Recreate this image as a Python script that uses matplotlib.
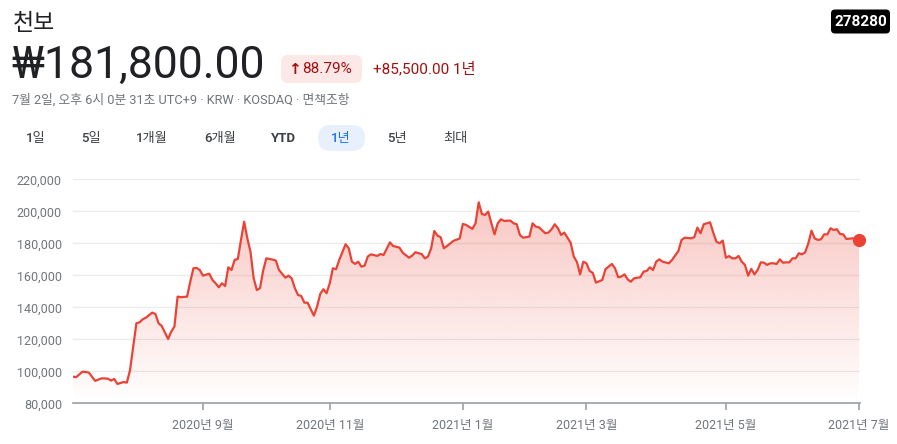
import numpy as np
import matplotlib
matplotlib.use("Agg")
import matplotlib.pyplot as plt
from matplotlib.patches import Polygon, FancyBboxPatch

plt.rcParams['font.family'] = ['Roboto', 'Noto Sans CJK KR', 'DejaVu Sans']

# trading-day index (0 = 2020-07-02) and closing price
days = [0, 1, 3, 5, 7, 9, 11, 12, 13, 14, 16, 17, 18, 20, 21, 22, 23, 25, 26, 27,
        28, 30, 31, 32, 33, 34, 36, 37, 38, 39, 40, 41, 43, 44, 45, 46, 47, 48, 49, 50,
        51, 52, 53, 54, 55, 56, 57, 58, 59, 60, 61, 63, 64, 65, 67, 68, 69, 70, 71, 72,
        73, 74, 76, 77, 78, 79, 80, 81, 82, 83, 84, 86, 87, 88, 89, 90, 91, 92, 93, 94,
        96, 97, 98, 100, 101, 103, 104, 106, 107, 108, 110, 111, 112, 113, 114, 115, 116, 117, 118, 120,
        122, 123, 124, 126, 127, 128, 129, 130, 131, 132, 133, 134, 135, 136, 138, 139, 140, 141, 142, 144,
        145, 146, 147, 149, 150, 151, 152, 153, 154, 155, 157, 158, 159, 160, 161, 162, 163, 164, 165, 167,
        168, 170, 171, 172, 173, 174, 175, 176, 177, 179, 180, 181, 182, 183, 184, 185, 186, 188, 189, 191,
        192, 193, 195, 196, 197, 198, 199, 200, 201, 202, 203, 204, 205, 206, 207, 208, 209, 210, 211, 212,
        213, 214, 215, 216, 217, 218, 219, 220, 221, 222, 223, 224, 225, 226, 227, 228, 229, 230, 231, 232,
        233, 234, 235, 236, 237, 238, 239, 240, 241, 242, 243, 244, 246, 247, 248]
prices = [96700, 96300, 99800, 99200, 94000, 95600, 95400, 94200, 95200, 92100,
          93300, 92900, 100800, 130000, 130600, 132500, 133500, 136700, 135800, 130000,
          128300, 120200, 124800, 127900, 146700, 146300, 146700, 156000, 164400, 164600,
          163300, 159800, 161000, 157100, 155000, 152500, 155000, 153300, 165000, 163300,
          169600, 170200, 182100, 193500, 183100, 174800, 158100, 150800, 152000, 163000,
          170600, 169800, 169200, 163300, 158500, 159800, 158100, 151900, 147700, 147100,
          142900, 142900, 134800, 140400, 148300, 151300, 148800, 155000, 164400, 163800,
          169600, 179400, 176900, 168500, 167100, 168500, 165400, 166000, 171700, 173100,
          172100, 173300, 172700, 180600, 178300, 177300, 174200, 171000, 172300, 174400,
          173300, 170600, 171700, 176900, 187700, 184800, 183800, 176900, 178300, 181500,
          183000, 192100, 191500, 189000, 192500, 205600, 198300, 197700, 199800, 192500,
          185600, 192500, 195000, 194000, 194200, 192500, 191900, 185200, 183500, 184200,
          192500, 190400, 190000, 186300, 186700, 188800, 191900, 189400, 185200, 186700,
          180400, 171700, 168300, 160600, 168500, 167500, 162700, 161500, 155400, 157100,
          163800, 167100, 164400, 158800, 159200, 160600, 157500, 156000, 158100, 158800,
          162300, 162700, 165000, 163300, 168500, 170000, 168500, 167500, 169600, 175200,
          182100, 183500, 183100, 183800, 189800, 186300, 191900, 192500, 193100, 186700,
          181000, 180000, 181700, 171000, 172000, 170600, 170600, 172100, 168500, 166500,
          159800, 164000, 160600, 163300, 168100, 167900, 166500, 167500, 167500, 167100,
          170000, 167900, 168100, 168100, 170600, 170600, 173800, 173100, 174400, 180000,
          187900, 183100, 182100, 182500, 185600, 185600, 189400, 188300, 188800, 185800,
          185600, 182700, 183100, 182700, 181800]

tick_days = [41, 81, 123, 162, 206, 248]
tick_labels = ["2020년 9월", "2020년 11월", "2021년 1월", "2021년 3월", "2021년 5월", "2021년 7월"]
y_ticks = [80000, 100000, 120000, 140000, 160000, 180000, 200000, 220000]

tabs = ["1일", "5일", "1개월", "6개월", "YTD", "1년", "5년", "최대"]
tab_x = [36, 91, 152, 220, 284, 341, 397, 455]

RED = "#ea4335"
GREY = "#70757a"

W, H = 897, 444
fig = plt.figure(figsize=(W / 100, H / 100), dpi=100)

# overlay in pixel coordinates for the header
bg = fig.add_axes([0, 0, 1, 1])
bg.set_xlim(0, W)
bg.set_ylim(H, 0)
bg.axis("off")

bg.text(13, 23, "천보", fontsize=16.5, color="#202124", va="center", ha="left",
        family=['Noto Sans CJK KR'])
bg.text(11, 66, "₩181,800.00", fontsize=32, color="#202124", va="center", ha="left",
        family=['Roboto', 'DejaVu Sans'])

bg.add_patch(FancyBboxPatch((281, 55), 81, 28, boxstyle="round,pad=0,rounding_size=7",
                            fc="#fce8e6", ec="none"))
bg.text(294, 69, "↑", fontsize=11, color="#a50e0e", va="center", ha="center",
        family=['DejaVu Sans'], fontweight="bold")
bg.text(302, 69, "88.79%", fontsize=11, color="#a50e0e", va="center", ha="left")
bg.text(373, 69, "+85,500.00 1년", fontsize=11, color="#a50e0e", va="center", ha="left")

bg.text(12, 100, "7월 2일, 오후 6시 0분 31초 UTC+9 · KRW · KOSDAQ · 면책조항",
        fontsize=9.2, color=GREY, va="center", ha="left")

bg.add_patch(FancyBboxPatch((318, 125), 47, 26, boxstyle="round,pad=0,rounding_size=13",
                            fc="#e8f0fe", ec="none"))
for lab, x in zip(tabs, tab_x):
    sel = lab == "1년"
    bg.text(x, 138, lab, fontsize=9.5, color="#1a73e8" if sel else "#3c4043",
            va="center", ha="center", fontweight="medium" if lab != "YTD" else "bold")

bg.add_patch(FancyBboxPatch((831, 9.5), 59, 24, boxstyle="round,pad=0,rounding_size=4",
                            fc="black", ec="none"))
bg.text(860.5, 21.5, "278280", fontsize=11, color="white", va="center", ha="center",
        fontweight="bold")

# chart
ax = fig.add_axes([73 / W, (H - 403.3) / H, 787 / W, 224 / H])
ax.set_xlim(0, 248.3)
ax.set_ylim(80000, 220000)

for y in y_ticks[1:]:
    ax.axhline(y, color="#ececec", lw=1, zorder=0)

top = max(prices)
grad = np.zeros((256, 1, 4))
rgb = matplotlib.colors.to_rgb(RED)
grad[..., 0], grad[..., 1], grad[..., 2] = rgb
grad[:, 0, 3] = np.linspace(0.0, 0.3, 256)
img = ax.imshow(grad, extent=[0, 248.3, 80000, top], aspect="auto", origin="lower",
                zorder=1, interpolation="bilinear")
verts = [(days[0], 80000)] + list(zip(days, prices)) + [(days[-1], 80000)]
clip = Polygon(verts, closed=True, transform=ax.transData)
img.set_clip_path(clip)

ax.plot(days, prices, color=RED, lw=1.6, zorder=3, solid_joinstyle="round")
ax.plot(days[-1], prices[-1], "o", color=RED, ms=8.5, zorder=4, clip_on=False)

for s in ["top", "right", "left"]:
    ax.spines[s].set_visible(False)
ax.spines["bottom"].set_color("#9aa0a6")
ax.spines["bottom"].set_linewidth(1.2)

ax.set_yticks(y_ticks)
ax.set_yticklabels([f"{v:,}" for v in y_ticks])
ax.tick_params(axis="y", length=0, pad=8, labelsize=9, labelcolor=GREY)
ax.set_xticks(tick_days)
ax.set_xticklabels(tick_labels)
ax.tick_params(axis="x", length=5, width=1.2, color="#9aa0a6", pad=6,
               labelsize=9, labelcolor=GREY)

fig.savefig("out.png", dpi=100)
